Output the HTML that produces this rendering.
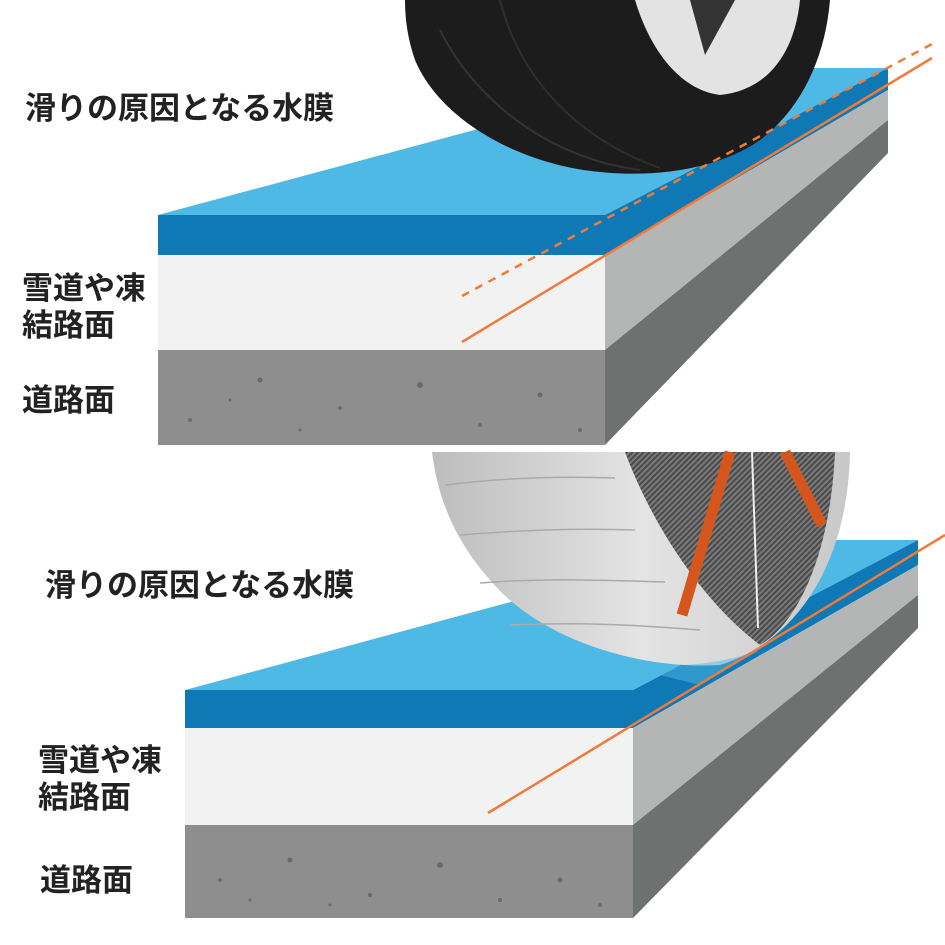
<!DOCTYPE html>
<html><head><meta charset="utf-8"><style>
html,body{margin:0;padding:0;background:#fff;}
svg{display:block}
text{font-family:"Liberation Sans","Noto Sans CJK JP",sans-serif;font-weight:bold;fill:#222;}
</style></head><body>
<svg width="945" height="945" viewBox="0 0 945 945" xmlns="http://www.w3.org/2000/svg">
<defs>
<pattern id="mesh" width="4" height="4" patternUnits="userSpaceOnUse" patternTransform="rotate(45)">
<rect width="4" height="4" fill="#4a4a4a"/><rect width="2" height="4" fill="#7a7a7a"/>
</pattern>
<linearGradient id="tread" x1="0" x2="1" y1="0" y2="0">
<stop offset="0" stop-color="#bdbdbd"/><stop offset="0.5" stop-color="#e4e4e4"/><stop offset="1" stop-color="#c8c8c8"/>
</linearGradient>
</defs>

<!-- TOP BLOCK -->
<polygon points="158,215 605,215 888,68 705,68" fill="#4fb9e6"/>
<rect x="158" y="215" width="447" height="40" fill="#0f79b5"/>
<rect x="158" y="255" width="447" height="95" fill="#f2f2f2"/>
<rect x="158" y="350" width="447" height="95" fill="#8e8e8e"/>
<polygon points="605,215 888,68 888,90 605,255" fill="#0f79b5"/>
<polygon points="605,255 888,90 888,120 605,350" fill="#b4b6b5"/>
<polygon points="605,350 888,120 888,153 605,445" fill="#6d716f"/>
<g fill="#6a6a6a">
<circle cx="190" cy="420" r="2"/><circle cx="260" cy="380" r="2.5"/><circle cx="340" cy="408" r="2"/><circle cx="420" cy="385" r="3"/><circle cx="480" cy="425" r="2"/><circle cx="540" cy="395" r="2.5"/><circle cx="300" cy="430" r="1.5"/><circle cx="580" cy="430" r="2"/><circle cx="230" cy="400" r="1.5"/>
</g>
<!-- top tire -->
<path d="M405,0 L830,0 C825,60 800,110 760,140 C720,168 660,178 600,172 C520,165 440,120 415,60 C408,40 405,20 405,0 Z" fill="#1c1c1c"/>
<path d="M635,0 L800,0 C795,50 770,90 720,95 C680,90 650,50 635,0 Z" fill="#e3e3e3"/>
<path d="M690,0 L735,0 L705,55 Z" fill="#333"/>
<path d="M440,30 C480,110 560,160 640,170" stroke="#333" stroke-width="2" fill="none"/>
<path d="M500,0 C520,80 580,140 660,168" stroke="#2e2e2e" stroke-width="2" fill="none"/>
<!-- top orange lines -->
<line x1="462" y1="296" x2="932" y2="44" stroke="#f07a3a" stroke-width="2.5" stroke-dasharray="8,7"/>
<line x1="462" y1="342" x2="932" y2="58" stroke="#f07a3a" stroke-width="2.5"/>

<!-- BOTTOM BLOCK -->
<polygon points="185,690 633,690 918,540 740,540" fill="#4fb9e6"/>
<rect x="185" y="690" width="448" height="38" fill="#0f79b5"/>
<rect x="185" y="728" width="448" height="97" fill="#f2f2f2"/>
<rect x="185" y="825" width="448" height="93" fill="#8e8e8e"/>
<polygon points="633,690 918,540 918,565 633,728" fill="#0f79b5"/>
<polygon points="633,728 918,565 918,595 633,825" fill="#b4b6b5"/>
<polygon points="633,825 918,595 918,628 633,918" fill="#6d716f"/>
<g fill="#6a6a6a">
<circle cx="220" cy="880" r="2"/><circle cx="290" cy="860" r="2.5"/><circle cx="370" cy="895" r="2"/><circle cx="440" cy="865" r="3"/><circle cx="500" cy="900" r="2"/><circle cx="560" cy="880" r="2.5"/><circle cx="330" cy="905" r="1.5"/><circle cx="600" cy="905" r="2"/><circle cx="250" cy="900" r="1.5"/>
</g>
<!-- bottom tire -->
<path d="M432,452 L850,452 C848,560 800,640 720,665 C640,670 540,640 490,580 C455,540 438,500 432,452 Z" fill="url(#tread)"/>
<path d="M625,452 L835,452 C830,560 795,625 760,645 C700,600 650,520 625,452 Z" fill="url(#mesh)"/>
<line x1="730" y1="452" x2="682" y2="615" stroke="#d4561c" stroke-width="11"/>
<line x1="785" y1="452" x2="822" y2="525" stroke="#d4561c" stroke-width="11"/>
<line x1="752" y1="452" x2="758" y2="628" stroke="#eee" stroke-width="2"/>
<g stroke="#aaa" stroke-width="1.5" fill="none">
<path d="M445,485 C500,478 560,476 615,478"/><path d="M460,535 C520,530 580,528 635,530"/><path d="M480,583 C540,578 600,580 665,582"/><path d="M510,625 C580,622 640,625 700,630"/>
</g>
<path d="M560,650 C620,670 700,672 760,650 L700,685 Z" fill="#4fb9e6" opacity="0.5"/>
<line x1="488" y1="813" x2="945" y2="535" stroke="#f07a3a" stroke-width="2.5"/>

<!-- labels -->
<text x="25" y="119" font-size="31">滑りの原因となる水膜</text>
<text x="22" y="299" font-size="31">雪道や凍</text>
<text x="22" y="336" font-size="31">結路面</text>
<text x="22" y="411" font-size="31">道路面</text>
<text x="45" y="596" font-size="31">滑りの原因となる水膜</text>
<text x="38" y="771" font-size="31">雪道や凍</text>
<text x="38" y="808" font-size="31">結路面</text>
<text x="40" y="891" font-size="31">道路面</text>
</svg>
</body></html>
